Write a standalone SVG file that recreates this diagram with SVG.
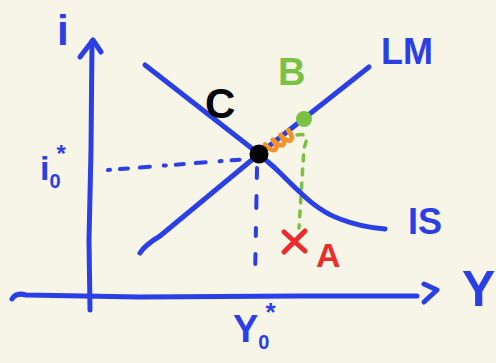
<svg xmlns="http://www.w3.org/2000/svg" width="496" height="363" viewBox="0 0 496 363">
<style>
.b{fill:none;stroke:#2b3fe6;stroke-width:5;stroke-linecap:round;stroke-linejoin:round}
.dash{fill:none;stroke:#2b3fe6;stroke-width:4;stroke-linecap:round}
.t{font-family:"Liberation Sans",Arial,sans-serif;font-weight:bold}
</style>
<rect width="496" height="363" fill="#f7f4e8"/>
<g id="axes">
<path class="b" d="M90,310 L89,240 L91,150 L92,41"/>
<path class="b" d="M80,57 L93,40 L101,52"/>
<path class="b" d="M12,299 Q16,292 26,295 L140,297 L300,296 L417,296"/>
<path class="b" d="M424,284 L437,290 L424,302"/>
</g>
<g id="connectors">
<path class="dash" d="M108,170 L248,159" stroke-dasharray="2,10,8,12,10,14"/>
<path class="dash" d="M257,168 L255,280" stroke-dasharray="10,18,12,20,8,18"/>
<path fill="none" stroke="#7cc242" stroke-width="3.5" stroke-linecap="round" stroke-dasharray="6,8" d="M297,135 Q311,132 304,148 L299,228"/>
</g>
<g id="curves">
<path class="b" d="M145,65 L245,143 Q259,154 275,168 C300,192 315,210 340,219 C358,226 372,228 385,229"/>
<path class="b" d="M140,253 Q145,245 160,236 L259,154 L369,67"/>
<g transform="translate(267,147) rotate(-38)">
<path fill="none" stroke="#f0932b" stroke-width="5" stroke-linecap="round" stroke-linejoin="round" d="M0,-3 q1,10 5,10 q4,0 4,-9 q1,10 5,10 q4,0 4,-9 q1,10 5,10 q4,0 4,-9"/>
</g>
</g>
<g id="C"><circle cx="259" cy="154" r="9.5" fill="#000"/>
<text class="t" x="205" y="118" font-size="42" fill="#000">C</text></g>
<g id="B"><circle cx="304" cy="119" r="8" fill="#7cc242"/>
<text class="t" x="278" y="85" font-size="38" fill="#7cc242">B</text></g>
<g id="A"><path d="M284,232 L305,251 M305,231 L284,252" stroke="#ee2b2b" stroke-width="5" stroke-linecap="round"/>
<text class="t" x="316" y="267" font-size="34" fill="#ee2b2b">A</text></g>
<g id="labels">
<text class="t" x="57" y="45" font-size="42" fill="#2b3fe6">i</text>
<text class="t" x="40" y="180" font-size="34" fill="#2b3fe6">i<tspan font-size="20" dy="8">0</tspan><tspan font-size="24" dx="-4" dy="-26">*</tspan></text>
<text class="t" x="381" y="64" font-size="36" fill="#2b3fe6">LM</text>
<text class="t" x="408" y="234" font-size="36" fill="#2b3fe6">IS</text>
<text class="t" x="462" y="306" font-size="50" fill="#2b3fe6">Y</text>
<text class="t" x="233" y="342" font-size="38" fill="#2b3fe6">Y<tspan font-size="20" dy="7">0</tspan><tspan font-size="26" dx="-4" dy="-28">*</tspan></text>
</g>
</svg>
